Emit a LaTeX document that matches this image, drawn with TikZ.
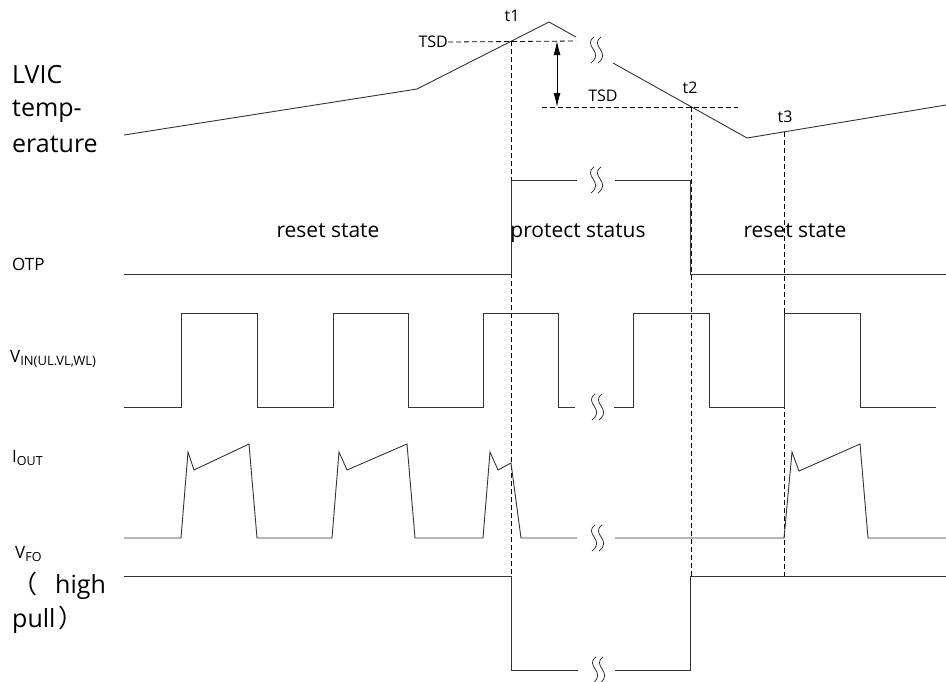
\documentclass[tikz,border=0pt]{standalone}
\usepackage{fontspec}
\setmainfont{Open Sans}
\newfontfamily\cjkf{Noto Sans CJK SC}
\usetikzlibrary{arrows.meta}
\begin{document}
\begin{tikzpicture}[x=1pt,y=-1pt,
  sig/.style={line width=0.9pt, draw=black!80, line join=miter},
  guide/.style={line width=0.8pt, draw=black, dash pattern=on 5pt off 3pt},
  big/.style={font=\fontsize{25}{30}\selectfont, anchor=base west, inner sep=0pt},
  mid/.style={font=\fontsize{17}{20}\selectfont, anchor=base west, inner sep=0pt},
  sm/.style={font=\fontsize{16}{19}\selectfont, inner sep=0pt},
  st/.style={font=\fontsize{21}{25}\selectfont, inner sep=0pt, anchor=base},
  squig/.pic={\draw[line width=0.8pt, black!80]
     (-1,-13) .. controls (-13,-4) and (10,2) .. (-4,13)
     (6,-13) .. controls (-6,-4) and (17,2) .. (3,13);}
]
\useasboundingbox (0,0) rectangle (946,681);

% left labels
\node[big] (l1) at (12,83) {LVIC};
\node[big] (l2) at (12,116) {temp-};
\node[big] (l3) at (12,152) {erature};
\node[mid] (otp) at (12,270) {OTP};
\node[mid] (vin) at (10,362) {V\fontsize{13}{15}\selectfont\raisebox{-3pt}{IN(UL.VL,WL)}};
\node[mid] (iout) at (12,462) {I\fontsize{12.5}{15}\selectfont\raisebox{-3pt}{OUT}};
\node[mid] (vfo) at (15,558) {V\fontsize{12.5}{15}\selectfont\raisebox{-3pt}{FO}};
\node[big] (hp1) at (12,593) {{\cjkf （}\hspace{18pt}high};
\node[big] (hp2) at (12,627) {pull\hspace{3pt}{\cjkf ）}};

% state labels
\node[st] (rs1) at (328,237) {reset state};
\node[st] (ps) at (578,237) {protect status};
\node[st] (rs2) at (795,237) {reset state};

% temperature
\draw[sig] (124,135) -- (417,89) -- (549,22) -- (576,37);
\pic at (595,50) {squig};
\draw[sig] (613,63) -- (747,138) -- (946,105);

% thresholds
\node[sm, anchor=east] (tsd1) at (448,42) {TSD};
\draw[guide] (tsd1.east) -- (576,41);
\node[sm] (tsd2) at (603,96) {TSD};
\draw[guide] (542,107) -- (738,107);
\draw[{Latex[length=14pt,width=7pt]}-{Latex[length=14pt,width=7pt]}, line width=0.9pt] (557,41) -- (557,107);
\node[sm] (t1) at (512,16) {t1};
\node[sm] (t2) at (690,88) {t2};
\node[sm] (t3) at (785,117) {t3};
\draw[guide] (511,41) -- (511,576);
\draw[guide] (691,107) -- (691,576);
\draw[guide] (784,132) -- (784,576);

% OTP
\draw[sig] (124,274) -- (511,274) -- (511,180) -- (577,180);
\pic at (595,180) {squig};
\draw[sig] (615,180) -- (690,180) -- (690,274) -- (946,274);

% VIN
\draw[sig] (124,407) -- (181,407) -- (181,313) -- (257,313) -- (257,407) -- (333,407) -- (333,313) -- (408,313) -- (408,407) -- (483,407) -- (483,313) -- (558,313) -- (558,407) -- (575,407);
\pic at (596,407) {squig};
\draw[sig] (614,407) -- (633,407) -- (633,313) -- (709,313) -- (709,407) -- (784,407) -- (784,313) -- (860,313) -- (860,407) -- (936,407);

% IOUT
\draw[sig] (124,538) -- (181,538) -- (188,452) -- (194,470) -- (249,444) -- (257,538) -- (332,538) -- (339,452) -- (347,470) -- (407,444) -- (415,538) -- (483,538) -- (490,452) -- (498,470) -- (511,463) -- (521,538) -- (577,538);
\pic at (596,538) {squig};
\draw[sig] (615,538) -- (784,538) -- (792,452) -- (799,471) -- (860,444) -- (868,538) -- (946,538);

% VFO
\draw[sig] (124,576) -- (511,576) -- (511,670) -- (578,670);
\pic at (597,670) {squig};
\draw[sig] (615,670) -- (690,670) -- (690,576) -- (946,576);
\end{tikzpicture}
\end{document}
